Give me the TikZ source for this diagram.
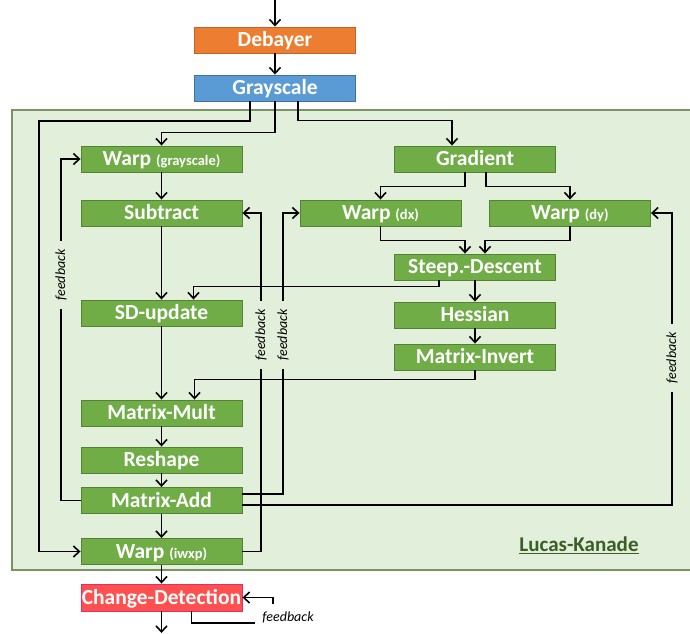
\documentclass[tikz,border=0pt]{standalone}
\usepackage{fontspec}
\setmainfont{Carlito}
\usetikzlibrary{arrows.meta}

\definecolor{debfill}{HTML}{ED7D31}
\definecolor{debline}{HTML}{C0652A}
\definecolor{grayfill}{HTML}{5B9BD5}
\definecolor{grayline}{HTML}{41719C}
\definecolor{lkgreen}{HTML}{70AD47}
\definecolor{lkline}{HTML}{548235}
\definecolor{lkfill}{HTML}{E2EFDA}
\definecolor{lkframe}{HTML}{7A9364}
\definecolor{lktext}{HTML}{3B5E26}
\definecolor{cdfill}{HTML}{FF5050}
\definecolor{cdline}{HTML}{E0306A}

\tikzset{
  stage/.style={draw, line width=0.9pt, minimum width=161pt, minimum height=26pt,
    inner sep=0pt, text height=14pt, text depth=0.5pt, text=white,
    font=\fontsize{21.5}{23}\selectfont\bfseries},
  lkstage/.style={stage, fill=lkgreen, draw=lkline},
  arr/.style={line width=1.7pt, -{Straight Barb[length=6pt,width=11pt,line width=1.6pt]}},
  wire/.style={line width=1.7pt},
  fb/.style={font=\fontsize{14}{15}\selectfont\itshape, rotate=90, fill=lkfill,
    inner xsep=8pt, inner ysep=2pt},
  fbplain/.style={font=\fontsize{14}{15}\selectfont\itshape, inner sep=0pt}
}
\newcommand{\sub}[1]{{\fontsize{14.5}{15}\selectfont (#1)}}

\begin{document}
\begin{tikzpicture}[x=1pt, y=-1pt]
\useasboundingbox (0,0) rectangle (690,633);

% Lucas-Kanade frame
\fill[lkfill] (12,110) rectangle (700,570);
\draw[lkframe, line width=1.4pt] (700,110) -- (12,110) -- (12,570) -- (700,570);
\node[text=lktext, font=\fontsize{21}{23}\selectfont\bfseries] (lk) at (579,545) {\underline{Lucas-Kanade}};

% pre-processing
\node[stage, fill=debfill, draw=debline] (deb) at (275,40) {Debayer};
\node[stage, fill=grayfill, draw=grayline] (gray) at (275,88) {Grayscale};

% left column
\node[lkstage] (wg) at (161.5,159) {Warp \sub{grayscale}};
\node[lkstage] (sub) at (161.5,213) {Subtract};
\node[lkstage] (sdu) at (161.5,313) {SD-update};
\node[lkstage] (mmult) at (161.5,413) {Matrix-Mult};
\node[lkstage] (resh) at (161.5,460) {Reshape};
\node[lkstage] (madd) at (161.5,500.5) {Matrix-Add};
\node[lkstage] (wiw) at (161.5,551.5) {Warp \sub{iwxp}};

% right column
\node[lkstage] (grad) at (475,159) {Gradient};
\node[lkstage] (wdx) at (380.5,213) {Warp \sub{dx}};
\node[lkstage] (wdy) at (570,213) {Warp \sub{dy}};
\node[lkstage] (steep) at (475,267) {Steep.-Descent};
\node[lkstage] (hess) at (475,315) {Hessian};
\node[lkstage] (minv) at (475,357) {Matrix-Invert};

% change detection
\node[stage, fill=cdfill, draw=cdline, minimum height=27pt] (cd) at (161.5,597.5) {Change-Detection};

\coordinate (in) at (275,0);
\coordinate (out) at (161.5,633);
\coordinate (fbin) at (273,604);
\coordinate (fbout) at (255,623);

% main flow
\draw[arr] (in) -- (deb.north);
\draw[arr] (deb) -- (gray);
\draw[arr] ([xshift=-25pt]gray.south) |- (39,121) |- (wiw.west);
\draw[arr] (gray.south) -- ++(0,31) -| (wg.north);
\draw[arr] ([xshift=23pt]gray.south) -- ++(0,19) -| ([xshift=-23pt]grad.north);
\draw[arr] (wg) -- (sub);
\draw[arr] (sub) -- (sdu);
\draw[arr] (sdu) -- (mmult);
\draw[arr] (mmult) -- (resh);
\draw[arr] (resh) -- (madd);
\draw[arr] (madd) -- (wiw);
\draw[arr] (wiw) -- (cd);
\draw[arr] (cd) -- (out);

\draw[arr] ([xshift=-10pt]grad.south) -- ++(0,14) -| (wdx.north);
\draw[arr] ([xshift=11pt]grad.south) -- ++(0,14) -| (wdy.north);
\draw[arr] (wdx.south) -- ++(0,14) -| ([xshift=-10pt]steep.north);
\draw[arr] (wdy.south) -- ++(0,14) -| ([xshift=10pt]steep.north);
\draw[arr] ([xshift=-36pt]steep.south) -- ++(0,6) -| ([xshift=32pt]sdu.north);
\draw[arr] (steep) -- (hess);
\draw[arr] (hess) -- (minv);
\draw[arr] (minv.south) -- ++(0,9) -| ([xshift=33pt]mmult.north);

% feedback loops
\draw[arr] (madd.west) -| (61,275) node[fb] {feedback} |- (wg.west);
\draw[arr] ([yshift=6.5pt]madd.east) -| (283,335) node[fb] {feedback} |- (wdx.west);
\draw[arr] (wiw.east) -| (261,335) node[fb] {feedback} |- (sub.east);
\draw[arr] ([yshift=-4.5pt]madd.east) -| (672,358) node[fb] {feedback} |- (wdy.east);

\draw[arr] (fbin) |- (cd.east);
\draw[wire] ([xshift=30pt]cd.south) |- (fbout);
\node[fbplain] (fbl) at (288,617) {feedback};
\end{tikzpicture}
\end{document}
